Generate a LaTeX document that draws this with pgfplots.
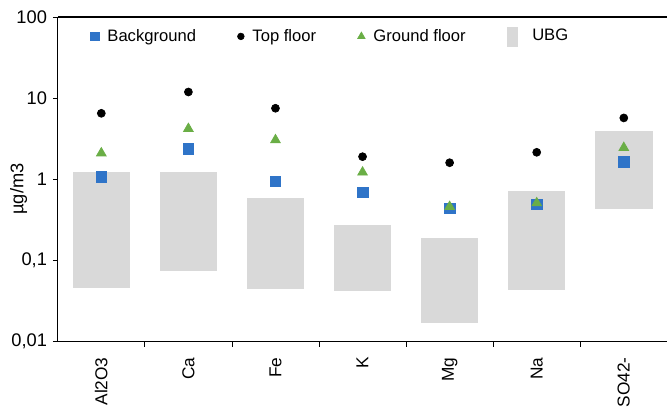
\documentclass[border=0pt]{standalone}
\usepackage{pgfplots}
\pgfplotsset{compat=1.18}
\usepackage{fontspec}
\setmainfont{Liberation Sans}
\definecolor{bgblue}{HTML}{2F74C8}
\definecolor{gfgreen}{HTML}{6AAE46}
\definecolor{ubggray}{HTML}{D9D9D9}
\pgfplotsset{mleg/.style={legend image code/.code={\draw[##1, mark size=#1] plot coordinates {(0.1cm,0cm)};}},
  ubgleg/.style={legend image code/.code={\fill[ubggray] (0cm,-0.2cm) rectangle (0.2cm,0.2cm);}}}
\begin{document}
\begin{tikzpicture}
\begin{axis}[
  scale only axis,
  width=367.2pt, height=195.6pt,
  ymode=log,
  ymin=0.01, ymax=100,
  xmin=-0.5, xmax=6.5,
  axis x line=box, axis y line=left,
  axis line style={-, line width=0.8pt},
  xtick={0,...,6},
  xticklabels={Al2O3,Ca,Fe,K,Mg,Na,SO42-},
  x tick label style={rotate=90, anchor=east, font=\fontsize{10.4}{12}\selectfont},
  xticklabel shift=3pt,
  major x tick style={draw=none},
  extra x ticks={0.5,1.5,2.5,3.5,4.5,5.5},
  extra x tick labels={},
  extra x tick style={major tick length=3pt, tick align=outside, xtick pos=left, major x tick style={draw=black, line width=0.5pt}},
  xtick pos=left,
  ytick={0.01,0.1,1,10,100},
  yticklabels={{0,01},{0,1},1,10,100},
  y tick label style={font=\fontsize{11}{13}\selectfont},
  ytick pos=left,
  tick align=outside,
  major tick length=3pt,
  yminorticks=false,
  tick style={black, line width=0.5pt},
  ylabel={µg/m3},
  ylabel style={at={(axis description cs:-0.064,0.47)}, anchor=center, font=\fontsize{11}{13}\selectfont},
  legend columns=4,
  legend style={draw=none, fill=none, at={(axis description cs:0.045,0.94)}, anchor=west, font=\normalsize,
    /tikz/every even column/.append style={column sep=23pt},
    /tikz/every odd column/.append style={column sep=3pt}},
  legend cell align=left,
]
% UBG floating bars
\addplot[fill=ubggray, draw=none, forget plot] coordinates {(-0.33,0.046) (0.33,0.046) (0.33,1.22) (-0.33,1.22)} -- cycle;
\addplot[fill=ubggray, draw=none, forget plot] coordinates {(0.67,0.075) (1.33,0.075) (1.33,1.22) (0.67,1.22)} -- cycle;
\addplot[fill=ubggray, draw=none, forget plot] coordinates {(1.67,0.044) (2.33,0.044) (2.33,0.58) (1.67,0.58)} -- cycle;
\addplot[fill=ubggray, draw=none, forget plot] coordinates {(2.67,0.042) (3.33,0.042) (3.33,0.27) (2.67,0.27)} -- cycle;
\addplot[fill=ubggray, draw=none, forget plot] coordinates {(3.67,0.017) (4.33,0.017) (4.33,0.19) (3.67,0.19)} -- cycle;
\addplot[fill=ubggray, draw=none, forget plot] coordinates {(4.67,0.043) (5.33,0.043) (5.33,0.72) (4.67,0.72)} -- cycle;
\addplot[fill=ubggray, draw=none, forget plot] coordinates {(5.67,0.43) (6.33,0.43) (6.33,3.9) (5.67,3.9)} -- cycle;
% Background
\addplot[only marks, mark=square*, mark size=3.2pt, color=bgblue, mleg=2.6pt]
  coordinates {(0,1.08) (1,2.37) (2,0.94) (3,0.69) (4,0.44) (5,0.49) (6,1.65)};
\addlegendentry{Background}
% Top floor
\addplot[only marks, mark=*, mark size=2.4pt, color=black, mleg=2pt]
  coordinates {(0,6.5) (1,11.9) (2,7.5) (3,1.9) (4,1.6) (5,2.15) (6,5.7)};
\addlegendentry{Top floor}
% Ground floor
\addplot[only marks, mark=triangle*, mark size=3.4pt, color=gfgreen, mleg=2.6pt]
  coordinates {(0,2.1) (1,4.2) (2,3.05) (3,1.22) (4,0.46) (5,0.51) (6,2.45)};
\addlegendentry{Ground floor}
\addlegendimage{ubgleg}
\addlegendentry{\hspace*{4pt}UBG}
\end{axis}
\useasboundingbox (-34.8pt,-37.2pt) rectangle (366pt,205.8pt);
\end{tikzpicture}
\end{document}
